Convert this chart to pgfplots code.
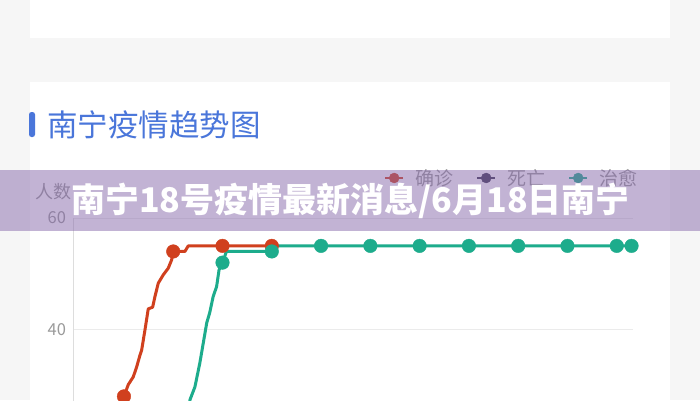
\documentclass[border=0pt]{standalone}
\usepackage{fontspec}
\setmainfont{Noto Sans CJK SC}
\usepackage{pgfplots}
\pgfplotsset{compat=1.18}
\definecolor{bg}{HTML}{F6F6F6}
\definecolor{redc}{HTML}{D0401E}
\definecolor{greenc}{HTML}{1DAC8C}
\definecolor{deathc}{HTML}{3A3450}
\definecolor{titleblue}{HTML}{4A76DA}
\definecolor{band}{RGB}{135,105,171}
\definecolor{tickgray}{HTML}{9A9A9A}
\definecolor{gridc}{HTML}{EBEBEB}
\definecolor{axisc}{HTML}{DDDDDD}

\pgfplotstableread{
d v
-0.30 18
-0.12 25.2
0 28
0.087 30.1
0.189 31.5
0.258 33.3
0.325 35.4
0.359 36.3
0.426 39.9
0.493 43.7
0.582 44.0
0.629 45.9
0.696 48.3
0.797 49.8
0.899 51.0
0.968 52.5
1 54
1.237 54
1.304 55
2 55
3 55
}\redline
\pgfplotstableread{
d v
0 28
1 54
2 55
3 55
}\redmarks
\pgfplotstableread{
d v
1.20 20
1.34 27.4
1.44 29.7
1.54 34.0
1.61 37.6
1.68 41.2
1.74 43.0
1.81 45.9
1.88 47.7
1.93 50.7
2 52
2.08 54
3 54
3.08 55
4 55
5 55
6 55
7 55
8 55
9 55
10 55
10.3 55
}\greenline
\pgfplotstableread{
d v
2 52
3 54
4 55
5 55
6 55
7 55
8 55
9 55
10 55
10.3 55
}\greenmarks

\begin{document}
\begin{tikzpicture}[x=1pt,y=1pt]
\useasboundingbox (0,0) rectangle (700,400);
\begin{scope}
\clip (0,0) rectangle (700,400);
\fill[bg] (0,0) rectangle (700,400);
\fill[white] (30,362) rectangle (670,400);
\fill[white] (30,0) rectangle (670,318);
\fill[titleblue, rounded corners=2.5pt] (29,263) rectangle (35,288);
\node[anchor=west, inner sep=0pt, text=titleblue, font=\fontsize{30.5}{30.5}\selectfont] at (47,275) {南宁疫情趋势图};

\begin{axis}[
  at={(73pt,-152.5pt)}, anchor=south west,
  scale only axis, width=560pt, height=334.5pt,
  xmin=-1.034, xmax=10.33, ymin=0, ymax=60,
  axis lines=left,
  axis line style={draw=axisc, line width=1pt, -},
  xtick=\empty,
  ytick={40,60},
  ymajorgrids,
  grid style={draw=gridc, line width=1pt},
  major tick length=0pt,
  /pgf/number format/assume math mode=true,
  yticklabel style={font=\fontsize{16.5}{16.5}\selectfont, text=tickgray, xshift=-3.5pt},
  ylabel={人数},
  ylabel style={at={(axis description cs:-0.035,1.078)}, rotate=-90, anchor=center, font=\fontsize{18}{18}\selectfont, text=tickgray},
  clip=false,
  legend image code/.code={\draw[#1, line width=2pt] (0pt,0pt) -- (18pt,0pt); \fill[#1] (9pt,0pt) circle (5pt);},
  legend columns=3,
  legend style={draw=none, fill=none, at={(0.55,1.1196)}, anchor=west,
    font=\fontsize{19}{19}\selectfont, text=tickgray,
    /tikz/every odd column/.append style={column sep=9pt},
    /tikz/every even column/.append style={column sep=21pt}},
]
\addlegendimage{redc}
\addlegendentry{确诊}
\addlegendimage{deathc}
\addlegendentry{死亡}
\addlegendimage{greenc}
\addlegendentry{治愈}
\addplot[redc, line width=3pt, no markers, line join=round, forget plot] table[x=d, y=v] {\redline};
\addplot[redc, only marks, mark=*, mark size=6.8pt, forget plot] table[x=d, y=v] {\redmarks};
\addplot[greenc, line width=3pt, no markers, line join=round, forget plot] table[x=d, y=v] {\greenline};
\addplot[greenc, only marks, mark=*, mark size=6.8pt, forget plot] table[x=d, y=v] {\greenmarks};
\end{axis}

\fill[band, opacity=0.5] (0,169) rectangle (700,230);
\node[text=white, inner sep=0pt, font=\fontsize{34}{34}\selectfont\bfseries] at (350.5,199.5) {南宁18号疫情最新消息/6月18日南宁};
\end{scope}
\end{tikzpicture}
\end{document}
